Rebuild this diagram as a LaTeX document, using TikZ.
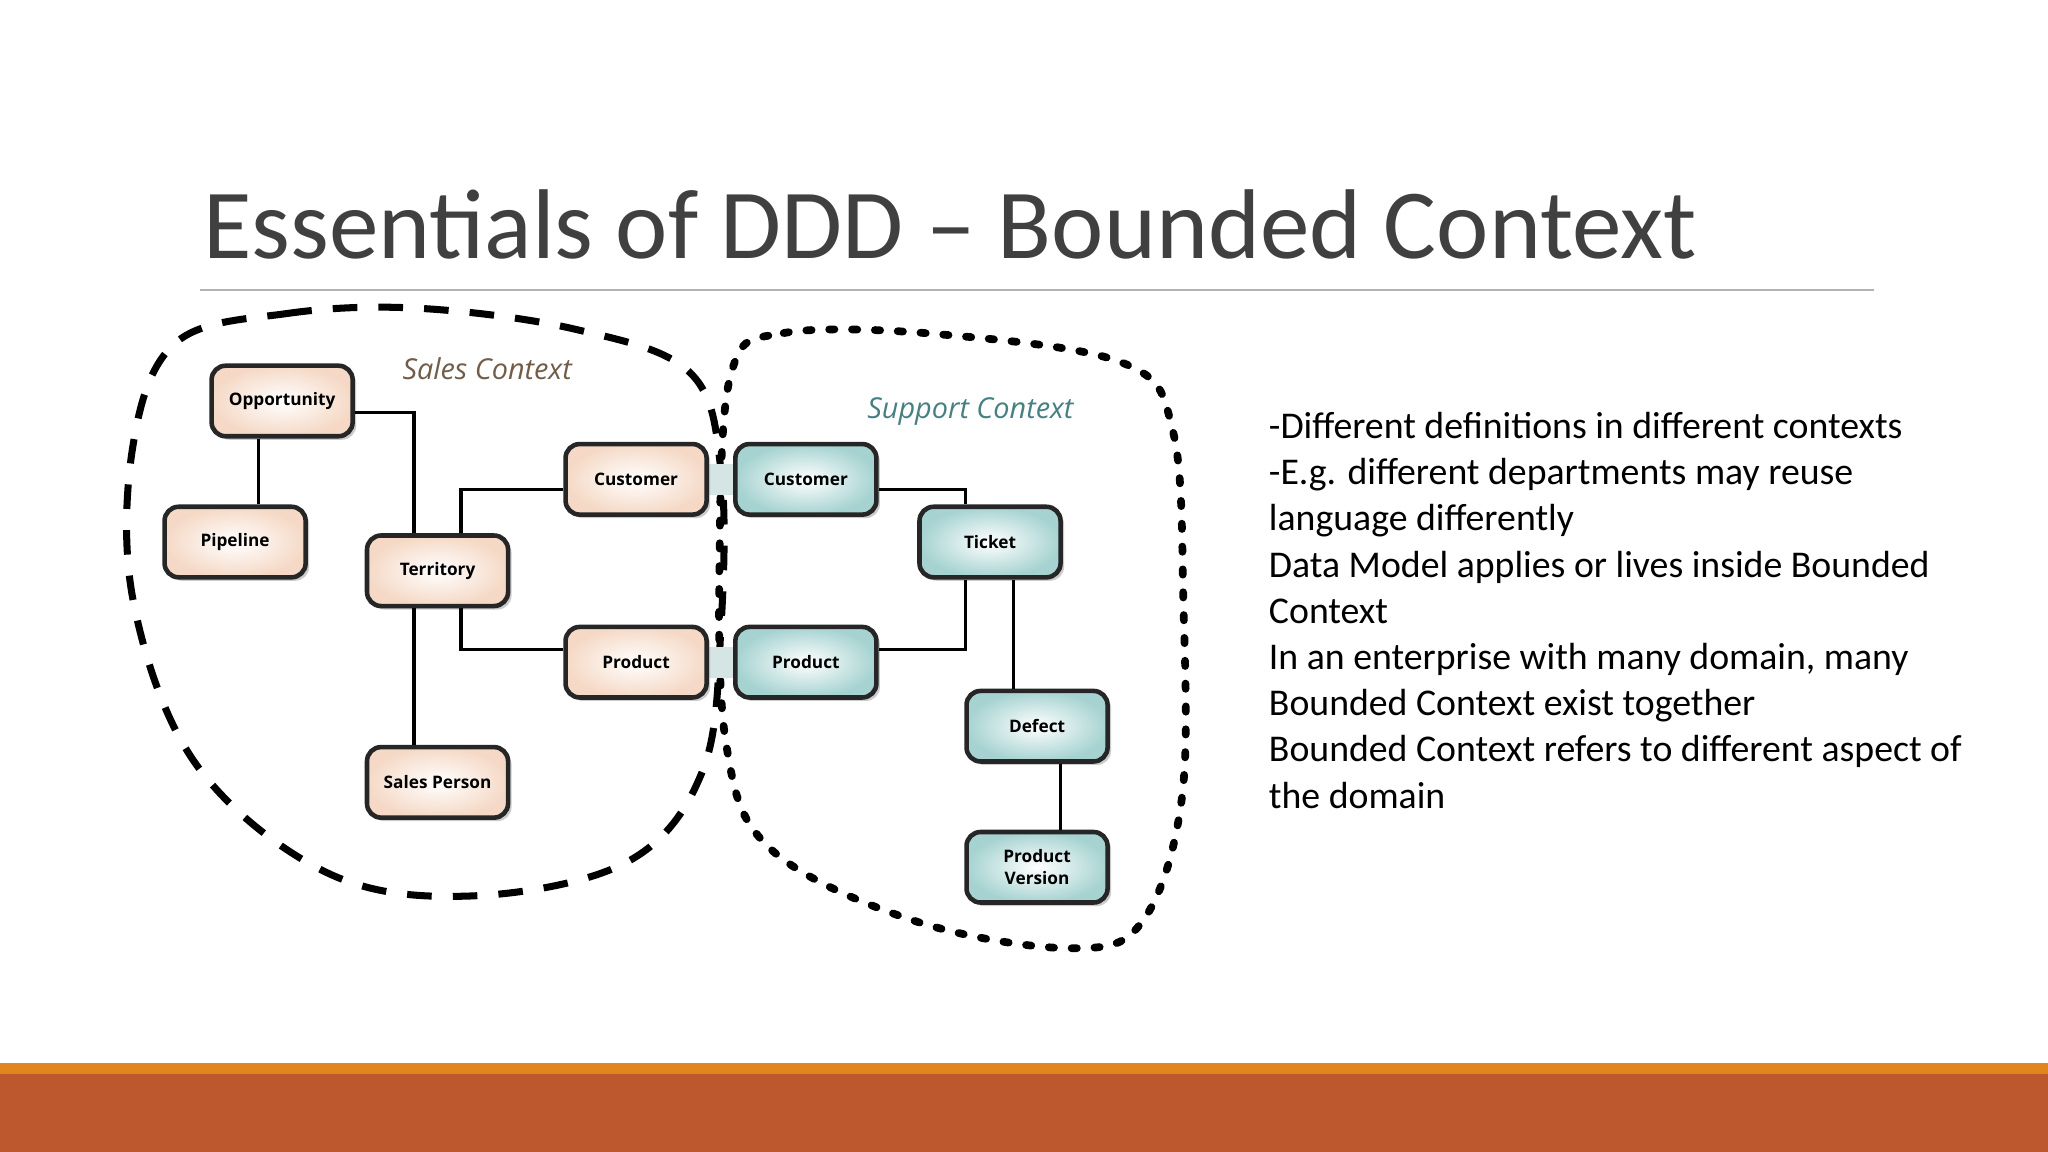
\documentclass[tikz,border=0pt]{standalone}
\usepackage{fontspec}
\setmainfont{Carlito}
\newfontfamily\osans{Open Sans}
\usetikzlibrary{shadows}
\definecolor{peach}{HTML}{F5D9C6}
\definecolor{teal1}{HTML}{A6D3D1}
\definecolor{rust}{HTML}{BD572D}
\definecolor{orng}{HTML}{E0861C}
\begin{document}
\begin{tikzpicture}[x=0.0130612cm,y=-0.0130612cm,
 box/.style={draw=black!85,line width=1.3pt,rounded corners=4pt,minimum width=108*0.0130612cm,minimum height=54*0.0130612cm,font=\osans\bfseries\fontsize{4.9}{6.2}\selectfont,align=center,drop shadow={shadow xshift=1pt,shadow yshift=-1pt,opacity=0.4}},
 sbox/.style={box,inner color=white,outer color=peach},
 tbox/.style={box,inner color=white,outer color=teal1},
 conn/.style={line width=0.9pt,black},
 lnk/.style={fill=black!10!teal1!40,draw=none}]
\useasboundingbox (0,0) rectangle (1568,882);
\fill[white] (0,0) rectangle (1568,882);
\fill[orng] (0,814) rectangle (1568,823);
\fill[rust] (0,822) rectangle (1568,882);
\node[anchor=base west,inner sep=0,text=black!75,font=\fontsize{28.2}{30}\selectfont] (title) at (155,198) {Essentials of DDD -- Bounded Context};
\draw[black!30,line width=0.6pt] (153,222) -- (1435,222);
% boundaries
\draw[line width=2pt,dash pattern=on 7pt off 6pt,black] plot[smooth cycle,tension=0.6] coordinates{(135,262) (220,240) (320,236) (440,252) (528,285) (552,360) (552,480) (538,590) (480,660) (360,686) (250,668) (150,585) (102,460) (102,340)};
\draw[line width=2.2pt,dash pattern=on 1.5pt off 5pt,line cap=round,black] plot[smooth cycle,tension=0.6] coordinates{(560,285) (600,255) (720,256) (860,278) (898,330) (906,460) (905,610) (875,705) (820,726) (700,705) (590,650) (556,570) (551,420)};
\node[text=black!45!brown!60!gray,font=\osans\itshape\fontsize{8.2}{8}\selectfont] (sl) at (373,282) {Sales Context};
\node[text=teal!45!gray,font=\osans\itshape\fontsize{8.2}{8}\selectfont] (tl) at (743,315) {Support Context};
% link bars
\fill[lnk] (541,355) rectangle (563,379);
\fill[lnk] (541,495) rectangle (563,519);
% nodes
\node[sbox] (opp) at (216,307) {Opportunity};
\node[sbox] (pip) at (180,415) {Pipeline};
\node[sbox] (ter) at (335,437) {Territory};
\node[sbox] (sp) at (335,599) {Sales Person};
\node[sbox] (cus) at (487,367) {Customer};
\node[sbox] (pro) at (487,507) {Product};
\node[tbox] (cus2) at (617,367) {Customer};
\node[tbox] (pro2) at (617,507) {Product};
\node[tbox] (tic) at (758,415) {Ticket};
\node[tbox] (def) at (794,556) {Defect};
\node[tbox] (pv) at (794,664) {Product\\Version};
% connectors
\draw[conn] (opp.east|-0,316) -| (ter.north-|317,0);
\draw[conn] (opp.south-|198,0) -- (pip.north-|198,0);
\draw[conn] (ter.north-|353,0) |- (cus.west|-0,375);
\draw[conn] (ter.south-|353,0) |- (pro.west|-0,497);
\draw[conn] (ter.south-|317,0) -- (sp.north-|317,0);
\draw[conn] (cus2.east|-0,375) -| (tic.north-|739,0);
\draw[conn] (tic.south-|739,0) |- (pro2.east|-0,497);
\draw[conn] (tic.south-|776,0) -- (def.north-|776,0);
\draw[conn] (def.south-|812,0) -- (pv.north-|812,0);
\node[anchor=north west,align=left,inner sep=0,font=\fontsize{10.75}{13.15}\selectfont] (txt) at (971,315) {-Different definitions in different contexts\\-E.g. different departments may reuse\\language differently\\Data Model applies or lives inside Bounded\\Context\\In an enterprise with many domain, many\\Bounded Context exist together\\Bounded Context refers to different aspect of\\the domain};
\end{tikzpicture}
\end{document}
